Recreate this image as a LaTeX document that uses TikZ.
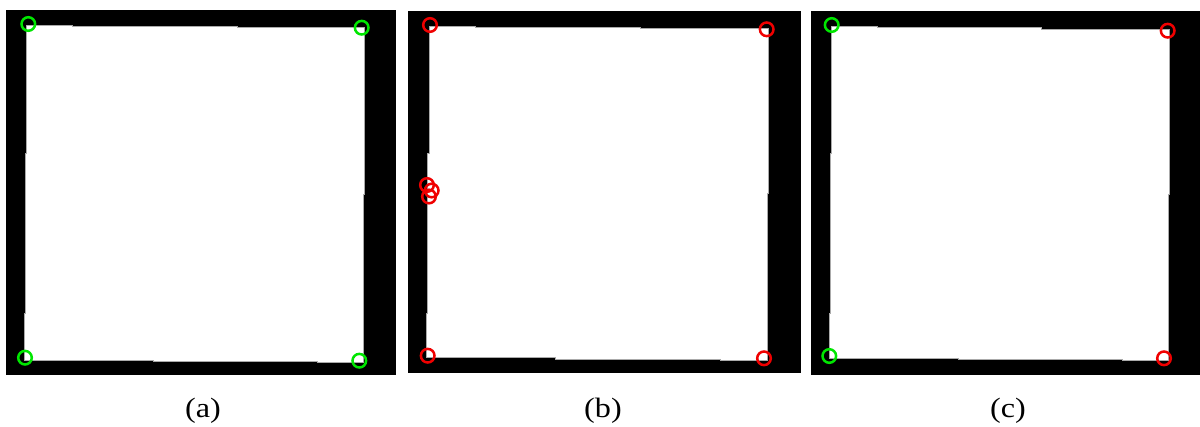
\documentclass[tikz,border=0pt]{standalone}
\usepackage{fontspec}
\setmainfont{Liberation Serif}
\definecolor{mkgreen}{RGB}{0,230,0}
\definecolor{mkred}{RGB}{240,0,0}
\tikzset{
  panel/.style={fill=black, draw=none},
  sheet/.style={fill=white, draw={rgb,255:red,170;green,170;blue,170}, line width=0.6pt},
  okmark/.style={draw=mkgreen, line width=2.5pt, fill=none},
  badmark/.style={draw=mkred, line width=2.5pt, fill=none},
  caption/.style={font=\fontsize{28}{30}\selectfont, inner sep=0pt, xscale=1.15}
}
\begin{document}
\begin{tikzpicture}[x=1pt,y=-1pt]
\useasboundingbox[fill=white] (0,0) rectangle (1200,426);
% panel (a)
\fill[panel] (6,10) rectangle (396,375);
\filldraw[sheet] (26.7,25) -- (72,25) -- (72,26) -- (237,26) -- (237,27.7) -- (364.3,27.7)
  -- (364.3,194) -- (363.3,194) -- (363.3,362.7) -- (317,362.7) -- (317,361) -- (153,361)
  -- (153,360) -- (24,360) -- (24,313) -- (25.3,313) -- (25.3,153) -- (26.7,153) -- cycle;
\draw[okmark] (28.3,24) circle (6.8);
\draw[okmark] (361.7,27.7) circle (6.8);
\draw[okmark] (25,357.7) circle (6.8);
\draw[okmark] (359.3,360.7) circle (6.8);
\node[caption] (capa) at (203,411) {(a)};
% panel (b)
\fill[panel] (408,11) rectangle (801,373);
\filldraw[sheet] (429,26) -- (475,26) -- (475,27) -- (640,27) -- (640,28.7) -- (768.3,28.7)
  -- (768.3,193) -- (767.3,193) -- (767.3,360.5) -- (720,360.5) -- (720,359) -- (555,359)
  -- (555,357.3) -- (426.7,357.3) -- (426.7,313) -- (427.7,313) -- (427.7,153) -- (429,153) -- cycle;
\draw[badmark] (430,25) circle (6.8);
\draw[badmark] (766.7,29.3) circle (6.8);
\draw[badmark] (427.7,355.7) circle (6.8);
\draw[badmark] (764,358.3) circle (6.8);
\draw[badmark] (427,185) circle (6.8);
\draw[badmark] (431.7,190.5) circle (6.8);
\draw[badmark] (429,196.5) circle (6.8);
\node[caption] (capb) at (603,411) {(b)};
% panel (c)
\fill[panel] (811,11) rectangle (1200,375);
\filldraw[sheet] (831.7,26) -- (877,26) -- (877,27) -- (1041,27) -- (1041,29) -- (1169.3,29)
  -- (1169.3,194) -- (1168.3,194) -- (1168.3,360.5) -- (1122,360.5) -- (1122,359.5) -- (958,359.5)
  -- (958,358.3) -- (829.3,358.3) -- (829.3,313) -- (830.3,313) -- (830.3,153) -- (831.7,153) -- cycle;
\draw[okmark] (831.7,25) circle (6.8);
\draw[badmark] (1167.7,30.7) circle (6.8);
\draw[okmark] (829.3,356) circle (6.8);
\draw[badmark] (1164,358.3) circle (6.8);
\node[caption] (capc) at (1008,411) {(c)};
\end{tikzpicture}
\end{document}
